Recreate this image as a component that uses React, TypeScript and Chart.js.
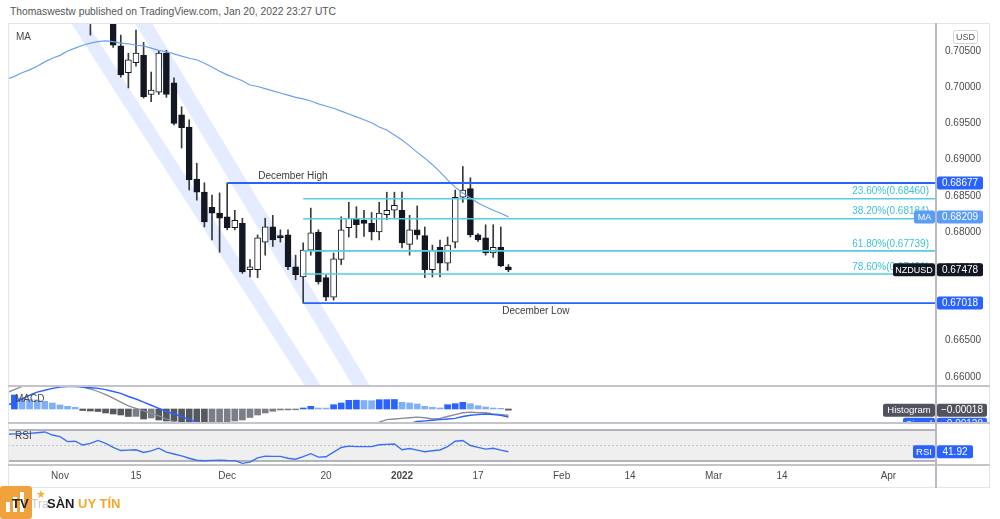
import React, { useEffect, useRef } from "react";
import { Chart, registerables } from "chart.js";

Chart.register(...registerables);

const FONT = '"Liberation Sans", Arial, sans-serif';
Chart.defaults.font.family = FONT;

// ---------- time axis: trading-day index, 0 = 1 Nov 2021 ----------
const X_MIN = -6.84;
const X_MAX = 115.26;
const xTickIndex = [0, 10, 22, 35, 45, 55, 66, 75, 86, 95, 109];
const xTickLabels = ["Nov", "15", "Dec", "20", "2022", "17", "Feb", "14", "Mar", "14", "Apr"];

// ---------- price axis ----------
const PRICE_MIN = 0.65873;
const PRICE_MAX = 0.70887;
const PRICE_STEP = 0.005;
const currency = "USD";
const symbol = "NZDUSD";

// ---------- daily candles (first candle = index 4) ----------
const candleStart = 4;
const opens = [0.7125, 0.7105, 0.712, 0.7098, 0.7057, 0.702, 0.7034, 0.7044, 0.699, 0.6993, 0.7047, 0.7006, 0.6962, 0.6945, 0.6873, 0.6855, 0.6834, 0.6826, 0.6821, 0.6806, 0.6812, 0.6748, 0.6748, 0.6786, 0.6807, 0.6795, 0.6796, 0.6752, 0.6738, 0.6775, 0.68, 0.6737, 0.671, 0.6762, 0.6806, 0.6819, 0.6816, 0.6812, 0.68, 0.6824, 0.683, 0.683, 0.6783, 0.6803, 0.6795, 0.6748, 0.6779, 0.6757, 0.6786, 0.6848, 0.686, 0.6796, 0.6792, 0.6771, 0.6779, 0.6752];
const highs = [0.714, 0.7135, 0.713, 0.711, 0.7072, 0.7047, 0.7079, 0.7062, 0.7021, 0.7051, 0.7051, 0.7013, 0.6973, 0.6955, 0.6895, 0.6868, 0.6851, 0.6854, 0.68677, 0.683, 0.6819, 0.6762, 0.6796, 0.6819, 0.6823, 0.6803, 0.6803, 0.6768, 0.6785, 0.6833, 0.6803, 0.6741, 0.6771, 0.6821, 0.6841, 0.6835, 0.683, 0.6827, 0.6841, 0.6855, 0.6855, 0.6855, 0.6823, 0.6836, 0.6807, 0.6782, 0.6789, 0.6793, 0.6858, 0.68905, 0.6875, 0.6798, 0.681, 0.681, 0.6807, 0.6755];
const lows = [0.7072, 0.7095, 0.7092, 0.7055, 0.7014, 0.6999, 0.7029, 0.6985, 0.698, 0.699, 0.6986, 0.6948, 0.6916, 0.6858, 0.6844, 0.6807, 0.6789, 0.6772, 0.6803, 0.6803, 0.6743, 0.6738, 0.6737, 0.6768, 0.678, 0.6786, 0.6748, 0.6734, 0.67018, 0.6768, 0.6728, 0.6705, 0.6706, 0.6755, 0.6793, 0.6792, 0.6794, 0.6789, 0.6789, 0.6817, 0.682, 0.6778, 0.6768, 0.679, 0.6737, 0.6738, 0.6738, 0.6747, 0.6778, 0.6841, 0.6793, 0.6787, 0.6768, 0.6765, 0.6752, 0.6745];
const closes = [0.7105, 0.712, 0.7098, 0.7058, 0.7017, 0.7038, 0.7047, 0.6987, 0.6996, 0.7047, 0.699, 0.695, 0.6944, 0.6872, 0.6855, 0.6814, 0.6826, 0.6819, 0.6806, 0.6816, 0.6745, 0.6752, 0.6792, 0.6807, 0.6789, 0.6792, 0.6752, 0.6741, 0.6775, 0.6799, 0.6731, 0.671, 0.6763, 0.6803, 0.6819, 0.681, 0.6812, 0.68, 0.6826, 0.683, 0.6837, 0.6785, 0.6803, 0.6796, 0.6748, 0.6775, 0.6757, 0.6782, 0.6848, 0.6858, 0.6796, 0.6789, 0.6771, 0.6779, 0.6753, 0.67478];

// ---------- indicators (first value = index -7) ----------
const indicatorStart = -7;
const maValues = [0.7011, 0.7015, 0.702, 0.7024, 0.7029, 0.7035, 0.704, 0.7044, 0.705, 0.7054, 0.7058, 0.7061, 0.7063, 0.7064, 0.7063, 0.7061, 0.706, 0.7058, 0.7057, 0.7054, 0.7051, 0.7049, 0.7046, 0.7043, 0.704, 0.7038, 0.7033, 0.7028, 0.7022, 0.7017, 0.7013, 0.7009, 0.7003, 0.7001, 0.6998, 0.6995, 0.6992, 0.6989, 0.6986, 0.6984, 0.6981, 0.6977, 0.6974, 0.6971, 0.6967, 0.6963, 0.6959, 0.6955, 0.6951, 0.6945, 0.6941, 0.6934, 0.6927, 0.6919, 0.691, 0.6902, 0.6893, 0.6883, 0.6872, 0.6862, 0.6854, 0.6847, 0.684, 0.6835, 0.683, 0.6826, 0.68209];
const macdValues = [0.0026, 0.0031, 0.0036, 0.0039, 0.0041, 0.0042, 0.0042, 0.0041, 0.0039, 0.0037, 0.0035, 0.0032, 0.0028, 0.0023, 0.00175, 0.0011, 0.0005, 0.0001, -0.0003, -0.0007, -0.0011, -0.0016, -0.002, -0.0025, -0.0031, -0.0036, -0.0041, -0.0045, -0.0048, -0.005, -0.0052, -0.0054, -0.0054, -0.0052, -0.005, -0.0048, -0.0046, -0.0044, -0.0042, -0.004, -0.0038, -0.0036, -0.0034, -0.0032, -0.003, -0.0028, -0.0027, -0.0025, -0.0024, -0.0021, -0.0017, -0.0016, -0.0015, -0.0014, -0.0013, -0.0014, -0.0016, -0.0015, -0.0012, -0.0009, -0.0006, -0.0005, -0.0006, -0.0006, -0.0008, -0.0009, -0.001];
const signalValues = [0.0006, 0.001, 0.0016, 0.0022, 0.0027, 0.003, 0.0033, 0.0035, 0.0036, 0.0036, 0.0035, 0.0034, 0.0033, 0.0031, 0.0028, 0.0025, 0.002, 0.0016, 0.0011, 0.0006, 0.0001, -0.0004, -0.0008, -0.0012, -0.0017, -0.0021, -0.0025, -0.0029, -0.0033, -0.0036, -0.0039, -0.0041, -0.0043, -0.0044, -0.0045, -0.0045, -0.0045, -0.0044, -0.0043, -0.0042, -0.0041, -0.004, -0.0038, -0.0036, -0.0035, -0.0033, -0.0031, -0.003, -0.0028, -0.0027, -0.0026, -0.0025, -0.0024, -0.0023, -0.002, -0.0019, -0.0018, -0.0017, -0.0016, -0.0015, -0.0012, -0.001, -0.0009, -0.0008, -0.0009, -0.001, -0.00128];
const histogramValues = [null, 0.00224, 0.00176, 0.00152, 0.00144, 0.00123, 0.00096, 0.00064, 0.00043, 0.00027, -0.00024, -0.00032, -0.0004, -0.00064, -0.0008, -0.00096, -0.0012, -0.00118, -0.0016, -0.00144, -0.00176, -0.00192, -0.00195, -0.00208, -0.00224, -0.0023, -0.0024, -0.0023, -0.0022, -0.00208, -0.00192, -0.00176, -0.00136, -0.00096, -0.00064, -0.00037, -0.00016, -0.00015, -0.00012, 0.00016, 0.00043, 0.00016, 0.00015, 0.00069, 0.00096, 0.00139, 0.00141, 0.00136, 0.00133, 0.00149, 0.0015, 0.00152, 0.00107, 0.00096, 0.0008, 0.00043, 0.00027, 0.00016, 0.00069, 0.00085, 0.00107, 0.00085, 0.00053, 0.00032, 0.00016, 0.00011, -0.00018];
const rsiValues = [64.5, 65, 65.3, 65.6, 66.5, 67.5, 63.5, 61.4, 55, 55.5, 50.6, 52.8, 56.5, 52.8, 47.5, 43.5, 44, 44.5, 41, 43, 46.5, 41.5, 39, 36.6, 33.5, 31, 30.3, 30.8, 31, 30.6, 30.5, 27, 28.5, 34, 36.3, 36, 36, 33.5, 32.3, 35.6, 39.5, 35, 35.5, 41.5, 47.5, 49.2, 48.5, 48.5, 48.5, 51, 51.5, 52, 44.5, 46.2, 44, 42, 43.2, 44.2, 48.5, 55.5, 56.5, 50, 47.5, 45.3, 46.4, 44, 41.92];

const MACD_MIN = -0.00224;
const MACD_MAX = 0.00368;
const RSI_MIN = 24.84;
const RSI_MAX = 77.74;
const rsiUpper = 70;
const rsiMiddle = 50;
const rsiLower = 30;

// ---------- drawings ----------
const levelNames = ["December High", "December Low"];
const levelPrices = [0.68677, 0.67018];
const levelStart = [22, 32];
const fibNames = ["23.60%", "38.20%", "61.80%", "78.60%"];
const fibPrices = [0.6846, 0.68184, 0.67739, 0.67421];
const fibStart = 32;
const channelTopIdx = [1.45, 9.87];
const channelBottomIdx = [32.24, 38.55];
const channelWidth = [2.1, 2.24];

const BLUE = "#2962ff";
const CYAN = "#56cde0";
const MA_COLOR = "#6aa1f4";
const CHANNEL = "rgba(41,98,255,0.12)";

const baseOptions: any = {
  responsive: false,
  animation: false,
  devicePixelRatio: 1,
  events: [],
  plugins: { legend: { display: false }, tooltip: { enabled: false } },
};

const hiddenX: any = { type: "linear", min: X_MIN, max: X_MAX, offset: false, display: false };

function drawTag(ctx: CanvasRenderingContext2D, x: number, yc: number, w: number, text: string, bg: string, fg = "#ffffff", size = 10) {
  const h = 13;
  ctx.fillStyle = bg;
  ctx.beginPath();
  if ((ctx as any).roundRect) (ctx as any).roundRect(x, yc - h / 2, w, h, 2);
  else ctx.rect(x, yc - h / 2, w, h);
  ctx.fill();
  ctx.fillStyle = fg;
  ctx.font = `${size}px ${FONT}`;
  ctx.textAlign = "center";
  ctx.textBaseline = "middle";
  ctx.fillText(text, x + w / 2, yc + 0.5);
}

const fmtSigned = (v: number, d: number) => (v < 0 ? "\u2212" : "") + Math.abs(v).toFixed(d);

function buildMain(canvas: HTMLCanvasElement) {
  const idx = opens.map((_, i) => candleStart + i);
  const bodies = idx.map((x, i) => ({ x, y: [opens[i], closes[i]] }));
  const wicks = idx.map((x, i) => ({ x, y: [lows[i], highs[i]] }));
  const bodyFill = idx.map((_, i) => (closes[i] >= opens[i] ? "#ffffff" : "#131722"));
  const ma = maValues.map((v, i) => ({ x: indicatorStart + i, y: v }));

  const channelSets = channelTopIdx.map((t, k) => ({
    type: "line",
    data: [
      { x: t, y: PRICE_MAX },
      { x: t + channelWidth[k], y: PRICE_MAX },
      { x: channelBottomIdx[k] + channelWidth[k], y: PRICE_MIN },
      { x: channelBottomIdx[k], y: PRICE_MIN },
    ],
    fill: "shape",
    backgroundColor: CHANNEL,
    borderColor: "transparent",
    borderWidth: 0,
    pointRadius: 0,
    order: 10,
  }));
  const fibSets = fibPrices.map((p) => ({
    type: "line",
    data: [{ x: fibStart, y: p }, { x: X_MAX, y: p }],
    borderColor: CYAN,
    borderWidth: 1.6,
    pointRadius: 0,
    fill: false,
    order: -1,
  }));
  const levelSets = levelPrices.map((p, k) => ({
    type: "line",
    data: [{ x: levelStart[k], y: p }, { x: X_MAX, y: p }],
    borderColor: BLUE,
    borderWidth: 1.8,
    pointRadius: 0,
    fill: false,
    order: -2,
  }));

  const overlay = {
    id: "mainOverlay",
    afterDraw(chart: any) {
      const { ctx, chartArea: a, scales } = chart;
      const x = scales.x, y = scales.y;
      ctx.save();
      ctx.font = `10px ${FONT}`;
      ctx.fillStyle = "#4a4a4a";
      ctx.textAlign = "left";
      ctx.textBaseline = "middle";
      ctx.fillText("MA", a.left + 8, a.top + 14);
      ctx.fillStyle = "#3b3b3b";
      ctx.fillText(levelNames[0], x.getPixelForValue(levelStart[0]) + 31, y.getPixelForValue(levelPrices[0]) - 7);
      ctx.fillText(levelNames[1], x.getPixelForValue(levelStart[1]) + 199, y.getPixelForValue(levelPrices[1]) + 8);
      ctx.textAlign = "right";
      ctx.fillStyle = "#3fc0d6";
      fibPrices.forEach((p, i) => {
        ctx.fillText(`${fibNames[i]}(${p.toFixed(5)})`, a.right - 7, y.getPixelForValue(p) - 7);
      });
      const r = a.right;
      ctx.fillStyle = "#ffffff";
      ctx.strokeStyle = "#d1d4dc";
      ctx.lineWidth = 1;
      ctx.beginPath();
      if (ctx.roundRect) ctx.roundRect(r + 17.5, 7.5, 24, 13, 2);
      else ctx.rect(r + 17.5, 7.5, 24, 13);
      ctx.fill();
      ctx.stroke();
      ctx.fillStyle = "#555";
      ctx.font = `9px ${FONT}`;
      ctx.textAlign = "center";
      ctx.fillText(currency, r + 29.5, 14.5);
      const yHigh = y.getPixelForValue(levelPrices[0]);
      drawTag(ctx, r + 1, yHigh, 46, levelPrices[0].toFixed(5), BLUE);
      const maLast = maValues[maValues.length - 1];
      const yMa = y.getPixelForValue(maLast);
      drawTag(ctx, r - 22, yMa, 21, "MA", "#5b9cf6", "#ffffff", 9);
      drawTag(ctx, r + 1, yMa, 46, maLast.toFixed(5), "#5b9cf6");
      const last = closes[closes.length - 1];
      const yLast = y.getPixelForValue(last);
      drawTag(ctx, r - 43, yLast, 42, symbol, "#131722", "#ffffff", 9);
      drawTag(ctx, r + 1, yLast, 46, last.toFixed(5), "#131722");
      drawTag(ctx, r + 1, y.getPixelForValue(levelPrices[1]), 46, levelPrices[1].toFixed(5), BLUE);
      ctx.restore();
    },
  };

  return new Chart(canvas, {
    type: "bar",
    data: {
      datasets: [
        ...channelSets,
        {
          type: "bar",
          data: wicks,
          backgroundColor: "#3a3a3a",
          barThickness: 1,
          grouped: false,
          order: 2,
        },
        {
          type: "bar",
          data: bodies,
          backgroundColor: bodyFill,
          borderColor: "#131722",
          borderWidth: 1,
          borderSkipped: false,
          barThickness: 6,
          minBarLength: 2,
          grouped: false,
          order: 1,
        },
        {
          type: "line",
          data: ma,
          borderColor: MA_COLOR,
          borderWidth: 1.2,
          pointRadius: 0,
          fill: false,
          order: 0,
        },
        ...fibSets,
        ...levelSets,
      ] as any,
    },
    options: {
      ...baseOptions,
      layout: { padding: 0 },
      scales: {
        x: hiddenX,
        y: {
          type: "linear",
          position: "right",
          min: PRICE_MIN,
          max: PRICE_MAX,
          grid: { display: false, drawTicks: false },
          border: { display: false },
          ticks: {
            stepSize: PRICE_STEP,
            includeBounds: false,
            padding: 9,
            color: "#4a4a4a",
            font: { size: 10 },
            callback: (v: any) => Number(v).toFixed(5),
          },
          afterFit: (s: any) => {
            s.width = 54;
            s.paddingTop = 0;
            s.paddingBottom = 0;
          },
        },
      },
    },
    plugins: [overlay],
  } as any);
}

function buildMacd(canvas: HTMLCanvasElement) {
  const hist = histogramValues.map((v, i) => ({ x: indicatorStart + i, y: v }));
  const histColors = histogramValues.map((v, i) => {
    const prev = i > 0 && histogramValues[i - 1] !== null ? (histogramValues[i - 1] as number) : (v as number);
    if (v === null) return "transparent";
    if (v >= 0) return v >= prev ? BLUE : "#7fb0f7";
    return v <= prev ? "#55585f" : "#7b7e87";
  });
  const overlay = {
    id: "macdOverlay",
    afterDraw(chart: any) {
      const { ctx, chartArea: a, scales } = chart;
      ctx.save();
      ctx.font = `10px ${FONT}`;
      ctx.fillStyle = "#4a4a4a";
      ctx.textAlign = "left";
      ctx.textBaseline = "middle";
      ctx.fillText("MACD", a.left + 7, a.top + 13);
      const hLast = histogramValues[histogramValues.length - 1] as number;
      const yh = scales.y.getPixelForValue(hLast);
      drawTag(ctx, a.right - 53, yh, 52, "Histogram", "#50535e", "#ffffff", 9.5);
      drawTag(ctx, a.right + 1, yh, 50, fmtSigned(hLast, 5), "#50535e");
      const sLast = signalValues[signalValues.length - 1];
      const ys = yh + 14;
      drawTag(ctx, a.right - 33, ys, 32, "Signal", BLUE, "#ffffff", 9.5);
      drawTag(ctx, a.right + 1, ys, 50, fmtSigned(sLast, 5), BLUE);
      ctx.restore();
    },
  };
  return new Chart(canvas, {
    type: "bar",
    data: {
      datasets: [
        {
          type: "bar",
          data: hist,
          backgroundColor: histColors,
          barThickness: 6,
          grouped: false,
          order: 3,
        },
        {
          type: "line",
          data: macdValues.map((v, i) => ({ x: indicatorStart + i, y: v })),
          borderColor: "#8a8d96",
          borderWidth: 1.3,
          pointRadius: 0,
          fill: false,
          order: 1,
        },
        {
          type: "line",
          data: signalValues.map((v, i) => ({ x: indicatorStart + i, y: v })),
          borderColor: BLUE,
          borderWidth: 1.4,
          pointRadius: 0,
          fill: false,
          order: 0,
        },
      ] as any,
    },
    options: {
      ...baseOptions,
      layout: { padding: { top: 0, right: 54, bottom: 0, left: 0 } },
      scales: {
        x: hiddenX,
        y: { type: "linear", min: MACD_MIN, max: MACD_MAX, display: false },
      },
    },
    plugins: [overlay],
  } as any);
}

function buildRsi(canvas: HTMLCanvasElement) {
  const overlay = {
    id: "rsiOverlay",
    beforeDatasetsDraw(chart: any) {
      const { ctx, chartArea: a, scales } = chart;
      const y = scales.y;
      const yU = y.getPixelForValue(rsiUpper);
      const yL = y.getPixelForValue(rsiLower);
      const yM = y.getPixelForValue(rsiMiddle);
      ctx.save();
      ctx.fillStyle = "#efeff0";
      ctx.fillRect(a.left, yU, a.right - a.left, yL - yU);
      ctx.strokeStyle = "#9d9fa6";
      ctx.lineWidth = 1.5;
      ctx.beginPath();
      ctx.moveTo(a.left, yU);
      ctx.lineTo(a.right, yU);
      ctx.moveTo(a.left, yL);
      ctx.lineTo(a.right, yL);
      ctx.stroke();
      ctx.strokeStyle = "#c2c4ca";
      ctx.lineWidth = 1;
      ctx.setLineDash([2, 2]);
      ctx.beginPath();
      ctx.moveTo(a.left, yM);
      ctx.lineTo(a.right, yM);
      ctx.stroke();
      ctx.restore();
    },
    afterDraw(chart: any) {
      const { ctx, chartArea: a, scales } = chart;
      ctx.save();
      ctx.font = `10px ${FONT}`;
      ctx.fillStyle = "#4a4a4a";
      ctx.textAlign = "left";
      ctx.textBaseline = "middle";
      ctx.fillText("RSI", a.left + 7, a.top + 12);
      const last = rsiValues[rsiValues.length - 1];
      const yr = scales.y.getPixelForValue(last);
      drawTag(ctx, a.right - 23, yr, 22, "RSI", BLUE, "#ffffff", 9.5);
      drawTag(ctx, a.right + 1, yr, 36, last.toFixed(2), BLUE);
      ctx.restore();
    },
  };
  return new Chart(canvas, {
    type: "line",
    data: {
      datasets: [
        {
          data: rsiValues.map((v, i) => ({ x: indicatorStart + i, y: v })),
          borderColor: "#3d6ff5",
          borderWidth: 1.4,
          pointRadius: 0,
          fill: false,
        },
      ],
    },
    options: {
      ...baseOptions,
      layout: { padding: { top: 1, right: 54, bottom: 0, left: 0 } },
      scales: {
        x: {
          type: "linear",
          min: X_MIN,
          max: X_MAX,
          offset: false,
          grid: { display: false, drawTicks: false },
          border: { display: false },
          afterBuildTicks: (s: any) => {
            s.ticks = xTickIndex.map((v) => ({ value: v }));
          },
          afterFit: (s: any) => {
            s.height = 23;
            s.paddingLeft = 0;
            s.paddingRight = 0;
          },
          ticks: {
            autoSkip: false,
            maxRotation: 0,
            padding: 5,
            color: "#4a4a4a",
            font: (c: any) => ({ family: FONT, size: 10, weight: xTickLabels[c.index] === "2022" ? "bold" : "normal" }),
            callback: (_v: any, i: number) => xTickLabels[i],
          },
        },
        y: { type: "linear", min: RSI_MIN, max: RSI_MAX, display: false },
      },
    },
    plugins: [overlay],
  } as any);
}

const abs = (l: number, t: number, w: number, h: number, extra: any = {}): React.CSSProperties => ({
  position: "absolute",
  left: l,
  top: t,
  width: w,
  height: h,
  ...extra,
});

export default function App() {
  const mainRef = useRef<HTMLCanvasElement>(null);
  const macdRef = useRef<HTMLCanvasElement>(null);
  const rsiRef = useRef<HTMLCanvasElement>(null);

  useEffect(() => {
    const charts = [buildMain(mainRef.current!), buildMacd(macdRef.current!), buildRsi(rsiRef.current!)];
    return () => charts.forEach((c) => c.destroy());
  }, []);

  const line = "#c3c5cb";
  return (
    <div style={{ position: "fixed", left: 0, top: 0, width: 1000, height: 519, background: "#ffffff", overflow: "hidden", fontFamily: FONT }}>
      <div style={{ position: "absolute", left: 10, top: 6, fontSize: 10.3, color: "#555", whiteSpace: "nowrap" }}>
        Thomaswestw published on TradingView.com, Jan 20, 2022 23:27 UTC
      </div>
      <canvas ref={mainRef} width={982} height={363} style={abs(8, 23, 982, 363)} />
      <canvas ref={macdRef} width={982} height={37} style={abs(8, 386, 982, 37)} />
      <canvas ref={rsiRef} width={982} height={65} style={abs(8, 423, 982, 65)} />
      <div style={abs(8, 23, 982, 465, { border: "1px solid #e3e5ea", boxSizing: "border-box", pointerEvents: "none" })} />
      <div style={abs(8, 385, 982, 2, { background: line })} />
      <div style={abs(8, 422, 982, 2, { background: line })} />
      <div style={abs(8, 464, 982, 2, { background: line })} />
      <div style={abs(935, 23, 2, 465, { background: "#b8bac0" })} />
      <div style={abs(0, 486, 32, 33, { background: "#f2a23c", borderRadius: 3 })}>
        <div style={abs(6, 16, 4, 10, { background: "#fff" })} />
        <div style={abs(13, 11, 4, 15, { background: "#fff" })} />
        <div style={abs(20, 6, 4, 20, { background: "#fff" })} />
      </div>
      <div style={{ position: "absolute", left: 12, top: 496, fontSize: 13, fontWeight: 700, color: "#222" }}>TV</div>
      <div style={{ position: "absolute", left: 36, top: 488, fontSize: 11, color: "#f2b233" }}>★</div>
      <div style={{ position: "absolute", left: 31, top: 497, fontSize: 12, color: "#c9c9c9" }}>Tra</div>
      <div style={{ position: "absolute", left: 47, top: 496, fontSize: 13, fontWeight: 700, color: "#1d1d1d", whiteSpace: "nowrap" }}>
        SÀN <span style={{ color: "#f4a82a" }}>UY TÍN</span>
      </div>
    </div>
  );
}
